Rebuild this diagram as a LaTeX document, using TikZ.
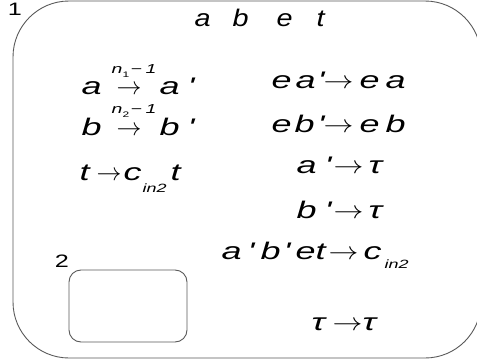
\documentclass[tikz,border=0pt]{standalone}
\usepackage{graphicx}
\usepackage{fontspec}
\setmainfont{Liberation Sans}[Ligatures=TeXOff]
\newfontfamily\fbody{Liberation Sans}[Ligatures=TeXOff, FakeStretch=1.5]
\newfontfamily\ftop{Liberation Sans}[Ligatures=TeXOff, FakeStretch=1.2]
\newfontfamily\fnum{Liberation Sans}[Ligatures=TeXOff, FakeStretch=1.4]
\newcommand\gl[2]{\rlap{\hspace{#1pt}#2}}
\newcommand\arr{\scalebox{1.2}[1]{$\rightarrow$}}
\newcommand\larr{$\rightarrow$}
\newcommand\subtxt[1]{{\fbody\fontsize{12}{14}\selectfont\itshape #1}}
\newcommand\tinysub[1]{\raisebox{-4pt}[0pt][0pt]{\fontsize{8}{9}\selectfont\upshape #1}}
\begin{document}
\begin{tikzpicture}[x=1pt,y=-1pt,
  lbl/.style={font=\fbody\fontsize{24}{28}\selectfont\itshape, anchor=base west, inner sep=0pt},
  toplbl/.style={font=\ftop\fontsize{24}{28}\selectfont\itshape, anchor=base west, inner sep=0pt},
  suplbl/.style={font=\fbody\fontsize{13}{15}\selectfont\itshape, anchor=base west, inner sep=0pt},
  num/.style={font=\fnum\fontsize{18}{20}\selectfont, inner sep=0pt},
  frame/.style={draw=black!65, line width=0.9pt}]
\useasboundingbox (0,0) rectangle (477,364);
% membranes
\draw[frame, rounded corners=56pt] (13,1) rectangle (481,358);
\node[num] (one) at (15,9) {1};
\node[num] (two) at (62,261) {2};
\draw[frame, rounded corners=12pt] (69,270) rectangle (187,342);
% top objects
\node[toplbl] (abet) at (194,27) {\gl{0}{a}\gl{38}{b}\gl{82}{e}\gl{122}{t}\hspace{134pt}};
% left rules
\node[lbl] (r1) at (81,94) {\gl{0}{a}\gl{35}{\larr}\gl{78}{a}\gl{106}{'}\hspace{114pt}};
\node[suplbl] (s1) at (111,73) {\gl{0}{n}\gl{11}{\tinysub{1}}\gl{19}{−}\gl{34}{1}\hspace{42pt}};
\node[lbl] (r2) at (81,135) {\gl{0}{b}\gl{35}{\larr}\gl{78}{b}\gl{106}{'}\hspace{114pt}};
\node[suplbl] (s2) at (111,113) {\gl{0}{n}\gl{11}{\tinysub{2}}\gl{19}{−}\gl{34}{1}\hspace{42pt}};
\node[lbl] (r3) at (79,180) {\gl{0}{t}\gl{17}{\larr}\gl{44}{c}\gl{63}{\raisebox{-12pt}{\subtxt{in2}}}\gl{91}{t}\hspace{106pt}};
% right rules
\node[lbl] (r4) at (271,88) {\gl{0}{e}\gl{24}{a}\gl{46}{'}\gl{52}{\arr}\gl{88}{e}\gl{114}{a}\hspace{138pt}};
\node[lbl] (r5) at (271,132) {\gl{0}{e}\gl{23}{b}\gl{46}{'}\gl{52}{\arr}\gl{88}{e}\gl{114}{b}\hspace{138pt}};
\node[lbl] (r6) at (296,173) {\gl{0}{a}\gl{28}{'}\gl{37}{\arr}\gl{72}{τ}\hspace{90pt}};
\node[lbl] (r7) at (296,218) {\gl{0}{b}\gl{28}{'}\gl{37}{\arr}\gl{72}{τ}\hspace{90pt}};
\node[lbl] (r8) at (221,259) {\gl{0}{a}\gl{26}{'}\gl{39}{b}\gl{62}{'}\gl{74}{e}\gl{94}{t}\gl{107}{\arr}\gl{142}{c}\gl{163}{\raisebox{-9pt}{\subtxt{in2}}}\hspace{195pt}};
\node[lbl] (r9) at (311,330) {\gl{0}{τ}\gl{21}{\arr}\gl{51}{τ}\hspace{68pt}};
\end{tikzpicture}
\end{document}
